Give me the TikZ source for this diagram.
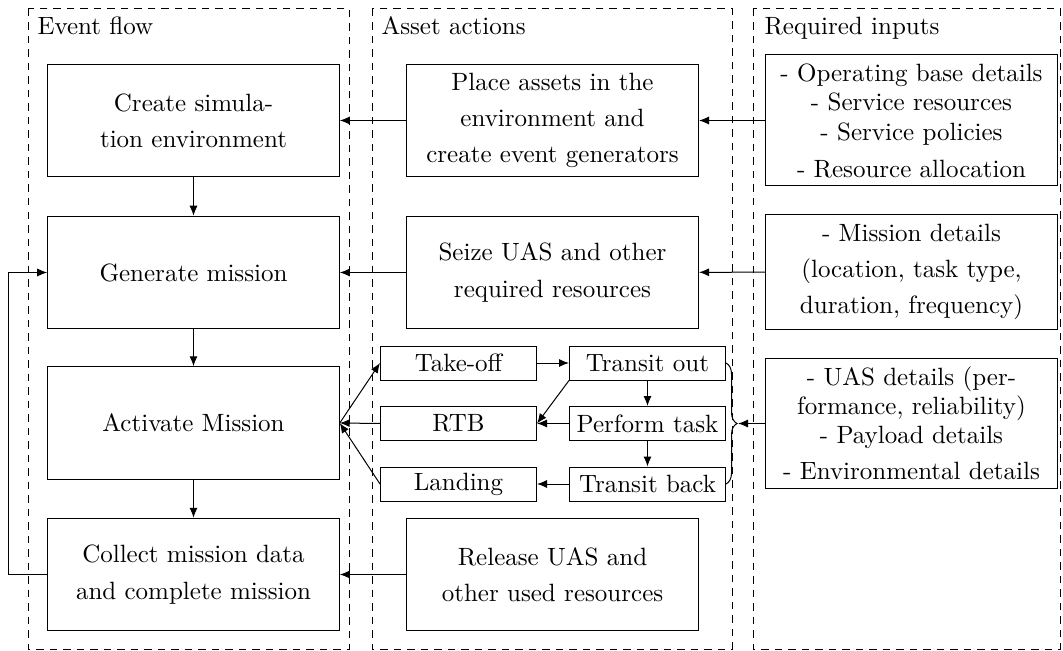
\documentclass[tikz,border=0pt]{standalone}
\usetikzlibrary{arrows.meta,decorations.pathreplacing,calc}
\begin{document}
\begin{tikzpicture}[x=0.4pt,y=-0.4pt,
  box/.style={draw, align=center, minimum width=116.6pt, minimum height=45pt,
    inner sep=2pt, font=\fontsize{10}{14.5}\selectfont},
  smallbox/.style={draw, align=center, minimum width=62.4pt, minimum height=13.6pt, inner sep=1pt},
  frame/.style={draw, dash pattern=on 3pt off 2.4pt},
  arr/.style={-{Latex[length=4pt,width=3.2pt]}},
  title/.style={anchor=base west, inner sep=0pt}]
\useasboundingbox (0,0) rectangle (1063,651);

% column frames
\draw[frame] (28,9) rectangle (349.5,649);
\draw[frame] (372,9) rectangle (732,649);
\draw[frame] (753,9) rectangle (1060,649);
\node[title] (tflow) at (37,35) {Event flow};
\node[title] (tasset) at (381,35) {Asset actions};
\node[title] (tinputs) at (764,35) {Required inputs};

% event flow
\node[box] (create) at (193.5,120.5) {Create simula-\\tion environment};
\node[box] (generate) at (193.5,272.5) {Generate mission};
\node[box] (activate) at (193.5,423) {Activate Mission};
\node[box] (collect) at (193.5,574.5) {Collect mission data\\and complete mission};

% asset actions
\node[box, minimum width=116.8pt] (place) at (552.5,120.5) {Place assets in the\\environment and\\create event generators};
\node[box, minimum width=116.8pt] (seize) at (552.5,272.5) {Seize UAS and other\\required resources};
\node[box, minimum width=116.8pt] (release) at (552.5,574.5) {Release UAS and\\other used resources};

\node[smallbox] (takeoff) at (458.5,363) {Take-off};
\node[smallbox] (rtb) at (458.5,423.5) {RTB};
\node[smallbox] (landing) at (458.5,484) {Landing};
\node[smallbox] (tout) at (647.5,363) {Transit out};
\node[smallbox] (task) at (647.5,423.5) {Perform task};
\node[smallbox] (tback) at (647.5,484) {Transit back};

% required inputs
\node[box, minimum height=52.4pt, font=\fontsize{10}{11.8}\selectfont] (base) at (911.5,120.5)
  {- Operating base details\\ - Service resources\\ - Service policies\\[3pt] - Resource allocation};
\node[box, minimum height=45.6pt] (mission) at (911.5,272)
  {- Mission details\\ (location, task type,\\ duration, frequency)};
\node[box, minimum height=52pt, font=\fontsize{10}{11.6}\selectfont] (uas) at (911.5,423.5)
  {- UAS details (per-\\ formance, reliability)\\ - Payload details\\[3pt] - Environmental details};

% event flow connectors
\draw[arr] (create) -- (generate);
\draw[arr] (generate) -- (activate);
\draw[arr] (activate) -- (collect);
\draw[arr] (collect.west) -- ++(-39,0) |- (generate.west);

% asset actions into event flow
\draw[arr] (place) -- (create);
\draw[arr] (seize) -- (generate);
\draw[arr] (release) -- (collect);
\draw[arr] (activate.east) -- (takeoff.west);
\draw[arr] (rtb.west) -- (activate.east);
\draw[arr] (landing.west) -- (activate.east);

% mission steps
\draw[arr] (takeoff) -- (tout);
\draw[arr] (tout) -- (task);
\draw[arr] (task) -- (tback);
\draw[arr] (tout.south west) -- (rtb.east);
\draw[arr] (task) -- (rtb);
\draw[arr] (tback) -- (landing);

% inputs
\draw[arr] (base) -- (place);
\draw[arr] (mission) -- (seize);
\draw[decorate, decoration={brace, amplitude=4.4pt}] (tout.east) -- (tback.east);
\coordinate (bracetip) at (738,423.5);
\draw[arr] (uas.west) -- (bracetip |- uas.west);
\end{tikzpicture}
\end{document}
